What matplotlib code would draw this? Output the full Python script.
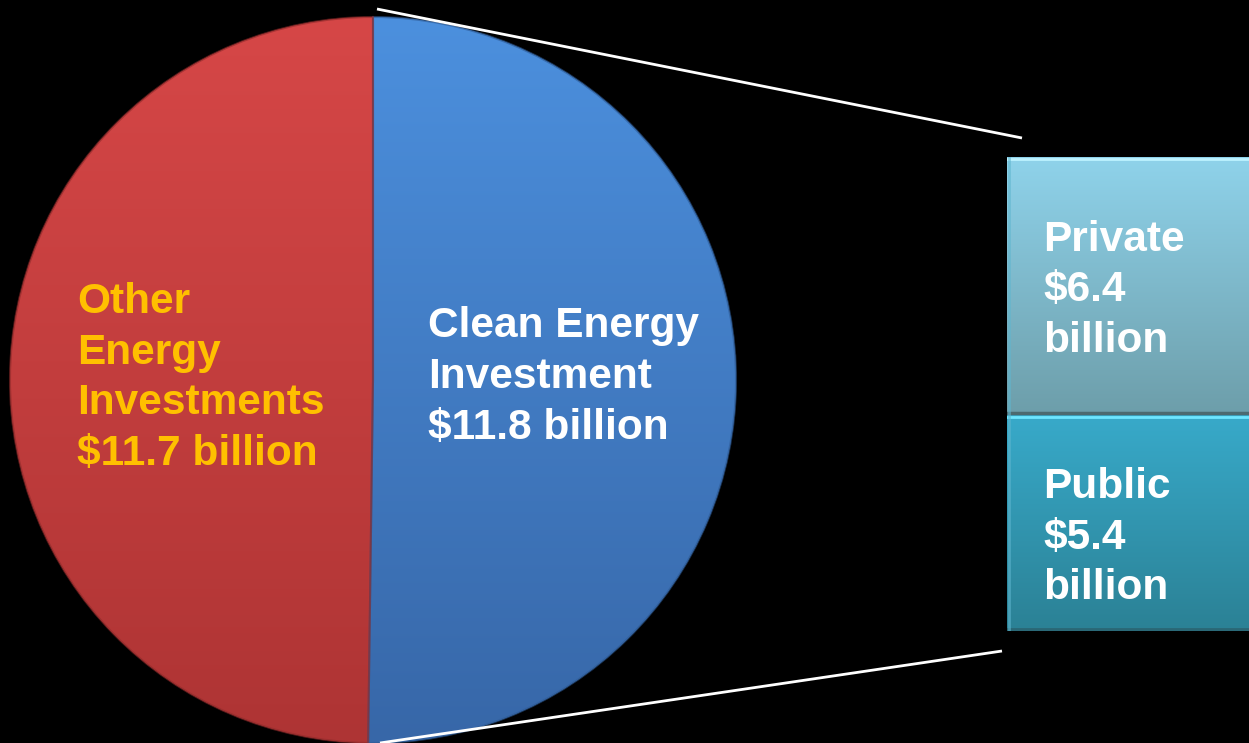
import numpy as np
import matplotlib.pyplot as plt
from matplotlib.patches import Wedge
from matplotlib.colors import LinearSegmentedColormap

plt.rcParams['font.family'] = ['Liberation Sans', 'DejaVu Sans']

W, H = 1249, 743

# Pie: total energy investment split
pie_labels = ["Clean Energy\nInvestment\n$11.8 billion",
              "Other\nEnergy\nInvestments\n$11.7 billion"]
pie_values = [11.8, 11.7]
pie_top_colors = ["#4C90DE", "#D64747"]
pie_bottom_colors = ["#3767A8", "#AE3434"]
pie_text_colors = ["white", "#FFC000"]

# Bar: breakdown of clean energy investment
bar_labels = ["Public\n$5.4\nbillion", "Private\n$6.4\nbillion"]
bar_values = [5.4, 6.4]
bar_top_colors = ["#38AACA", "#8FD3EB"]
bar_bottom_colors = ["#2B8195", "#6D9EAA"]

grad = np.linspace(0, 1, 256).reshape(-1, 1)


def gradient_fill(axis, patch, extent, c_bottom, c_top):
    cmap = LinearSegmentedColormap.from_list("g", [c_bottom, c_top])
    im = axis.imshow(grad, extent=extent, origin="lower", cmap=cmap,
                     aspect="auto", zorder=patch.get_zorder() + 0.1,
                     interpolation="bilinear")
    im.set_clip_path(patch)


fig = plt.figure(figsize=(W / 100, H / 100), dpi=100, facecolor="black")
ax = fig.add_axes([0, 0, 1, 1])
ax.set_facecolor("black")

cx, cy, r = 373, 363, 363
wedges, _ = ax.pie(pie_values, startangle=90, counterclock=False,
                   center=(cx, cy), radius=r, frame=True,
                   colors=pie_top_colors,
                   wedgeprops=dict(linewidth=0))
for w, cb, ct in zip(wedges, pie_bottom_colors, pie_top_colors):
    gradient_fill(ax, w, (cx - r, cx + r, cy - r, cy + r), cb, ct)

# bevel-like rim shading
for w, ec in zip(wedges, ["#2E5A94", "#8E2A2A"]):
    rim = Wedge(w.center, w.r, w.theta1, w.theta2, facecolor="none",
                edgecolor=ec, linewidth=1.5, alpha=0.6, zorder=3)
    ax.add_patch(rim)

ax.set_xlim(0, W)
ax.set_ylim(0, H)
ax.set_aspect("auto")
ax.axis("off")

text_x = [428, 77]
text_y = [366, 365]
for lab, col, tx, ty in zip(pie_labels, pie_text_colors, text_x, text_y):
    ax.text(tx, ty, lab, color=col, fontsize=30.5, fontweight="bold",
            ha="left", va="center", linespacing=1.34, zorder=5)

# Bar axes
bx0, bx1, by0, by1 = 1007, 1249, 112, 586
bax = fig.add_axes([bx0 / W, by0 / H, (bx1 - bx0) / W, (by1 - by0) / H])
bax.set_facecolor("none")
bottoms = np.concatenate([[0], np.cumsum(bar_values)[:-1]])
total = sum(bar_values)
patches = []
for b, v, c in zip(bottoms, bar_values, bar_top_colors):
    bc = bax.bar([0], [v], width=1.3, bottom=[b], align="edge",
                 color=c, linewidth=0)
    patches.append(bc[0])
for patch, b, v, cb, ct in zip(patches, bottoms, bar_values,
                               bar_bottom_colors, bar_top_colors):
    gradient_fill(bax, patch, (0, 1.3, b, b + v), cb, ct)

bax.set_xlim(0, 1)
bax.set_ylim(0, total)
bax.axis("off")

# edge highlights and divider
bax.axhline(total - 0.05, color="#BDF2FF", lw=2, zorder=4)
bax.axhline(bottoms[1] + 0.02, color="#4C6A70", lw=2.5, zorder=4)
bax.axhline(bottoms[1] - 0.07, color="#6EE6FF", lw=2, zorder=4)
bax.axhline(0.04, color="#2A6775", lw=2, zorder=4)
bax.axvline(0.008, color="#5FB6CF", lw=2, alpha=0.6, zorder=4)

bar_text_y = [2.32, 8.48]
for lab, ty in zip(bar_labels, bar_text_y):
    bax.text(0.149, ty, lab, color="white", fontsize=30.5, fontweight="bold",
             ha="left", va="center", linespacing=1.34, zorder=5)

# connector lines from the pie to the bar
ax.plot([cx + 4, 1022], [cy + r + 8, 605], color="white", lw=2,
        solid_capstyle="butt", zorder=6)
ax.plot([cx + 7, 1002], [cy - r, 92], color="white", lw=2,
        solid_capstyle="butt", zorder=6)

fig.savefig("out.png", dpi=100, facecolor="black")
